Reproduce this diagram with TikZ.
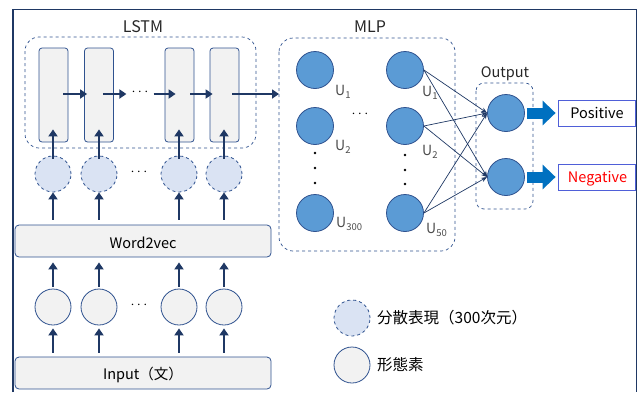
\documentclass[tikz,border=0pt]{standalone}
\usepackage{fontspec}
\setmainfont{Noto Sans CJK JP}
\usetikzlibrary{arrows.meta}
\definecolor{navy}{HTML}{1F3864}
\definecolor{edge}{HTML}{2F528F}
\definecolor{cellfill}{HTML}{F2F2F2}
\definecolor{vecfill}{HTML}{DAE3F3}
\definecolor{unitfill}{HTML}{5B9BD5}
\definecolor{bigblue}{HTML}{0070C0}
\definecolor{labelbox}{HTML}{4F5FD8}
% subscript set in the text font
\newcommand\usub[1]{\raisebox{-0.45ex}{\fontsize{9.5}{10}\selectfont #1}}
\tikzset{
  cell/.style={draw=edge, fill=cellfill, line width=0.8pt, rounded corners=3pt,
    minimum width=29pt, minimum height=94pt, inner sep=0pt},
  wide/.style={draw=edge, fill=cellfill, line width=0.8pt, rounded corners=4pt,
    minimum width=256pt, minimum height=32pt, inner sep=0pt},
  vec/.style={circle, draw=edge, fill=vecfill, dashed, line width=0.8pt,
    minimum size=36pt, inner sep=0pt},
  morph/.style={circle, draw=edge, fill=cellfill, line width=0.8pt,
    minimum size=36pt, inner sep=0pt},
  unit/.style={circle, draw=edge, fill=unitfill, line width=0.8pt,
    minimum size=37pt, inner sep=0pt},
  group/.style={draw=edge, dashed, line width=0.7pt, rounded corners=14pt},
  flow/.style={draw=navy, line width=2.6pt, -{Triangle[width=9pt,length=7pt]}},
  link/.style={draw=navy, line width=0.7pt, -{Stealth[length=6pt,width=4.5pt]}},
  bigarrow/.style={draw=bigblue, line width=11pt, -{Triangle[width=24pt,length=13pt]}},
  result/.style={draw=labelbox, line width=0.8pt, fill=white,
    minimum width=77pt, minimum height=26pt, inner sep=0pt},
  txt/.style={anchor=base, inner sep=0pt, font=\fontsize{14.5}{16}\selectfont},
  title/.style={anchor=base, inner sep=0pt, font=\fontsize{16}{18}\selectfont, text=black!85},
  ulabel/.style={anchor=base west, font=\fontsize{14}{16}\selectfont, text=black!70, inner sep=0pt},
  dots/.style={font=\fontsize{14}{16}\selectfont, inner sep=0pt},
  vdot/.style={circle, fill=black, inner sep=0pt, minimum size=2.8pt},
  legtext/.style={anchor=base west, inner sep=0pt, font=\fontsize{15.5}{18}\selectfont},
}
\begin{document}
\begin{tikzpicture}[x=1pt, y=-1pt]
\useasboundingbox (0,0) rectangle (640,392);

% outer frame
\draw[navy, line width=1.4pt] (13,392) -- (13,9.5) -- (636.5,9.5) -- (636.5,392);

% ---- LSTM block ----
\node[title] (lstmtitle) at (143,32.5) {LSTM};
\draw[group] (25,37) rectangle (256,148);
\node[cell] (c1) at (53.5,95) {};
\node[cell] (c2) at (99,95) {};
\node[cell] (c3) at (179.5,95) {};
\node[cell] (c4) at (224.5,95) {};
\node[dots] (hdots) at (140,92) {$\cdots$};
\coordinate (mlpin) at (279,94);

\draw[flow] ([xshift=-5pt,yshift=1pt]c1.east) -- ([xshift=3pt,yshift=1pt]c2.west);
\draw[flow] ([xshift=-11pt,yshift=1pt]c2.east) -- ([xshift=-5pt]hdots.west |- 0,94);
\draw[flow] ([xshift=5pt]hdots.east |- 0,94) -- ([xshift=11pt,yshift=1pt]c3.west);
\draw[flow] ([xshift=-4pt,yshift=1pt]c3.east) -- ([xshift=3pt,yshift=1pt]c4.west);
\draw[flow] ([xshift=-7pt,yshift=1pt]c4.east) -- (mlpin);

% distributed word vectors
\node[vec] (d1) at (53,174) {};
\node[vec] (d2) at (99,174) {};
\node[vec] (d3) at (179,174) {};
\node[vec] (d4) at (224,174) {};
\node[dots] (ddots) at (139,172) {$\cdots$};
\foreach \i in {1,...,4}
  \draw[flow] ([yshift=-3pt]d\i.north) -- ([yshift=13pt]d\i.north |- c\i.south);

% Word2vec
\node[wide] (w2v) at (143,241) {};
\node[txt] at (143,248) {Word2vec};
\foreach \i in {1,...,4}
  \draw[flow] ([yshift=5pt]d\i.south |- w2v.north) -- (d\i.south);

% morphemes
\node[morph] (m1) at (53,307) {};
\node[morph] (m2) at (99,307) {};
\node[morph] (m3) at (179,307) {};
\node[morph] (m4) at (224,307) {};
\node[dots] (mdots) at (139,305) {$\cdots$};
\foreach \i in {1,...,4}
  \draw[flow] ([yshift=2pt]m\i.north) -- ([yshift=-5pt]m\i.north |- w2v.south);

% Input
\node[wide] (inp) at (143,373) {};
\node[txt] at (143,379.5) {Input（文）};
\foreach \i in {1,...,4}
  \draw[flow] ([yshift=4pt]m\i.south |- inp.north) -- ([yshift=-3pt]m\i.south);

% ---- MLP block ----
\node[title] (mlptitle) at (370,32.5) {MLP};
\draw[group] (279,38) rectangle (455,251);
\node[unit] (a1) at (315,70) {};
\node[unit] (a2) at (315,126) {};
\node[unit] (a3) at (315,213) {};
\node[unit] (b1) at (405,70) {};
\node[unit] (b2) at (405,126) {};
\node[unit] (b3) at (405,213) {};
\node[dots] (udots) at (360,114) {$\cdots$};
\foreach \y in {153,168,183} \node[vdot] at (315,\y) {};
\foreach \y in {155,170,184} \node[vdot] at (405,\y) {};
\node[ulabel] at (335,95) {U\usub{1}};
\node[ulabel] at (335,150) {U\usub{2}};
\node[ulabel] at (336,227) {U\usub{300}};
\node[ulabel] at (422,96) {U\usub{1}};
\node[ulabel] at (422,155) {U\usub{2}};
\node[ulabel] at (426,233) {U\usub{50}};

% ---- Output block ----
\node[title, font=\fontsize{14.5}{16}\selectfont] (outtitle) at (505,77) {Output};
\draw[group, rounded corners=8pt] (476,83) rectangle (533,209);
\node[unit] (o1) at (506,113) {};
\node[unit] (o2) at (506,177) {};
\foreach \s in {b1,b2,b3}
  \foreach \t in {o1,o2}
    \draw[link] (\s.east) -- (\t.west);

% class labels
\node[result] (pos) at (596.5,113) {};
\node[txt] at (597,118.5) {Positive};
\node[result] (neg) at (596.5,177) {};
\node[txt, text=red] at (597.5,182.5) {Negative};
\draw[bigarrow] ([xshift=2pt]o1.east) -- ([xshift=-2pt]pos.west);
\draw[bigarrow] ([xshift=2pt]o2.east) -- ([xshift=-2pt]neg.west);

% ---- legend ----
\node[vec] (legvec) at (352,318) {};
\node[legtext] (legvectext) at (377,323.5) {分散表現（300次元）};
\node[morph] (legmorph) at (352,365) {};
\node[legtext] (legmorphtext) at (377,370.5) {形態素};
\end{tikzpicture}
\end{document}
